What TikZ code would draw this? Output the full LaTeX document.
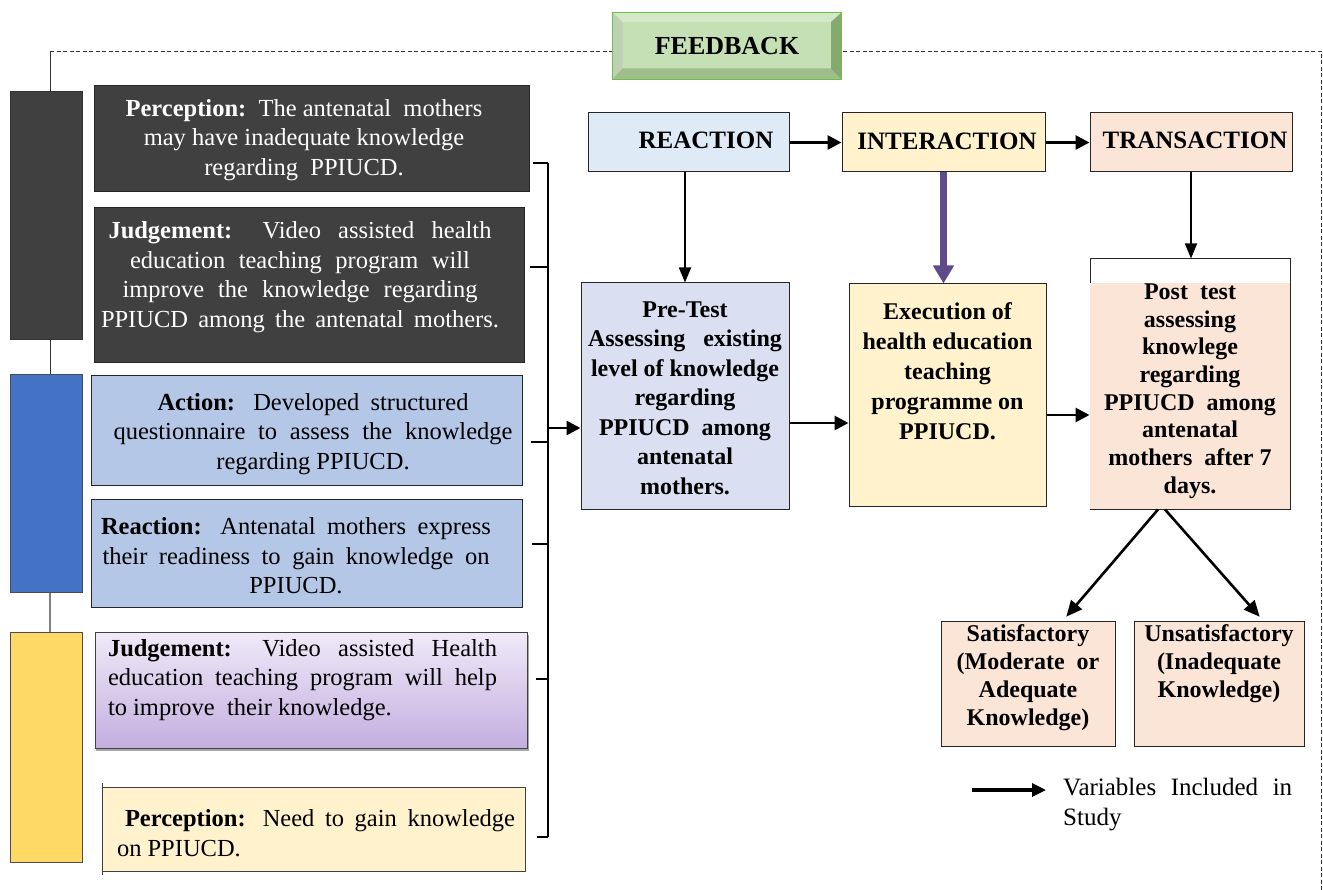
\documentclass[tikz,border=0pt]{standalone}
\usepackage{fontspec}
\setmainfont{Liberation Serif}
\usetikzlibrary{arrows.meta,calc}
\definecolor{cDark}{HTML}{404040}
\definecolor{cBlueBar}{HTML}{4472C4}
\definecolor{cYelBar}{HTML}{FFD966}
\definecolor{cLBlue}{HTML}{B4C7E7}
\definecolor{cReact}{HTML}{DEEBF7}
\definecolor{cYel}{HTML}{FFF2CC}
\definecolor{cPeach}{HTML}{FBE5D6}
\definecolor{cPre}{HTML}{DAE0F2}
\definecolor{cPurTop}{HTML}{EFEAF8}
\definecolor{cPurBot}{HTML}{C4AEE0}
\definecolor{cPurArr}{HTML}{5F4B8B}
\definecolor{cFbFace}{HTML}{C5E0B4}
\definecolor{cFbEdge}{HTML}{6CBF47}
\definecolor{cFbLight}{HTML}{D3E8C6}
\definecolor{cFbDark}{HTML}{9EBE8C}
\definecolor{cFbDarker}{HTML}{85AA70}
\newcommand{\myLfont}{\fontsize{24.5}{29.5}\selectfont}
\newcommand{\myRfont}{\fontsize{24}{29.5}\selectfont\bfseries}
\newcommand{\jline}[2]{\makebox[#1][s]{#2}}
\begin{document}
\begin{tikzpicture}[x=1pt,y=-1pt,
  box/.style={draw=black!85, line width=1pt, inner sep=0pt, rectangle},
  sz/.style 2 args={minimum width=#1pt, minimum height=#2pt},
  txt/.style={inner sep=0pt, align=center, font=\myLfont},
  rtxt/.style={inner sep=0pt, align=center, font=\myRfont},
  ttl/.style={inner sep=0pt, font=\fontsize{25}{29}\selectfont\bfseries},
  arr/.style={line width=2.8pt, -{Triangle[length=14pt,width=14pt]}},
  varr/.style={line width=1.8pt, -{Triangle[length=15pt,width=12pt]}},
  darr/.style={line width=2.6pt, -{Triangle[length=16pt,width=14pt]}, shorten >=5pt},
  purarr/.style={line width=7pt, cPurArr, -{Triangle[length=18pt,width=20pt]}},
  brk/.style={line width=2.5pt}
]
\useasboundingbox (0,0) rectangle (1323,890);

% feedback loop line
\coordinate (dl) at (50,51);
\coordinate (dr) at (1321,51);
\coordinate (de) at (1321,890);
\draw[dash pattern=on 4pt off 2.5pt, line width=0.9pt, black!80] (dl) -- (dr) -- (de);

% feedback box (bevel)
\node[box, sz={228}{66}, fill=cFbFace, draw=none] (fb) at (727,46) {};
\coordinate (iNW) at ($(fb.north west)+(10,10)$);
\coordinate (iNE) at ($(fb.north east)+(-11,10)$);
\coordinate (iSE) at ($(fb.south east)+(-11,-11)$);
\coordinate (iSW) at ($(fb.south west)+(10,-11)$);
\fill[cFbLight] (fb.north west) -- (fb.north east) -- (iNE) -- (iNW) -- cycle;
\fill[cFbLight!90!black] (fb.north west) -- (iNW) -- (iSW) -- (fb.south west) -- cycle;
\fill[cFbDark] (fb.south west) -- (fb.south east) -- (iSE) -- (iSW) -- cycle;
\fill[cFbDarker] (fb.north east) -- (fb.south east) -- (iSE) -- (iNE) -- cycle;
\fill[cFbFace] (iNW) rectangle (iSE);
\draw[cFbEdge, line width=1.5pt] (fb.north west) rectangle (fb.south east);
\node[ttl, font=\fontsize{26}{29}\selectfont\bfseries] (fbt) at (fb.center) {FEEDBACK};

% left bars
\node[box, sz={72}{248}, fill=cDark, draw=black!80] (bar1) at (46,216) {};
\node[box, sz={72}{217}, fill=cBlueBar, draw=black!70] (bar2) at (46,483.5) {};
\node[box, sz={72}{230}, fill=cYelBar, draw=black!70] (bar3) at (46,747) {};
\draw[line width=1pt, black!80] (dl) -- (dl|-bar1.north);
\draw[line width=1pt, black!80] (dl|-bar1.south) -- (dl|-bar2.north);
\draw[line width=1.3pt, gray] (dl|-bar2.south) -- (dl|-bar3.north);

% left boxes
\node[box, sz={434.5}{106}, fill=cDark] (b1) at (311.75,139) {};
\node[txt, text=white] (t1) at (304,140) {\textbf{Perception:}\ \ The antenatal\ \ mothers\\ may\ have\ inadequate\ knowledge\\ regarding\ \ PPIUCD.};

\node[box, sz={429.5}{155}, fill=cDark] (b2) at (309.25,285.5) {};
\node[txt, text=white] (t2) at (300,277) {\jline{383pt}{\textbf{Judgement:} Video assisted health}\\ \jline{340pt}{education teaching program will}\\ \jline{355pt}{improve the knowledge regarding}\\ \jline{398pt}{PPIUCD among the antenatal mothers.}};

\node[box, sz={431}{109}, fill=cLBlue] (b3) at (306.5,430.5) {};
\node[txt] (t3) at (313,434) {\jline{311pt}{\textbf{Action:} Developed structured}\\ \jline{399pt}{questionnaire to assess the knowledge}\\ regarding PPIUCD.};

\node[box, sz={431}{108}, fill=cLBlue] (b4) at (306.5,553) {};
\node[txt] (t4) at (296,556) {\jline{390pt}{\textbf{Reaction:} Antenatal mothers express}\\ \jline{387pt}{their readiness to gain knowledge on}\\ PPIUCD.};

\node[box, sz={432.7}{116}, fill=black!35, draw=none] (b5s) at (312.35,692.5) {};
\node[box, sz={432.7}{116}, top color=cPurTop, bottom color=cPurBot, draw=black!75] (b5) at (311.35,690) {};
\node[txt, align=left] (t5) at (302.5,680) {\jline{389pt}{\textbf{Judgement:} Video assisted Health}\\ \jline{389pt}{education teaching program will help}\\ to improve\ \ their knowledge.};

\node[box, sz={422.3}{84}, fill=cYel, draw=black!75] (b6) at (313.85,829) {};
\draw[line width=1pt, black!75] (b6.north west) ++(0,-4) -- ++(0,92);
\node[txt, align=left] (t6) at (316,833) {\hspace*{8pt}\jline{390pt}{\textbf{Perception:} Need to gain knowledge}\\ on PPIUCD.};

% bracket
\coordinate (k1) at (548,163);
\coordinate (k2) at (548,267);
\coordinate (k3) at (548,442);
\coordinate (k4) at (548,544);
\coordinate (k5) at (548,679);
\coordinate (k6) at (548,837);
\coordinate (km) at (548,428);
\draw[brk] (k1) -- (k6);
\draw[brk] (b1.east|-k1) ++(3,0) -- (k1);
\draw[brk] (b2.east|-k2) ++(5,0) -- (k2);
\draw[brk] (b3.east|-k3) ++(8,0) -- (k3);
\draw[brk] (b4.east|-k4) ++(9,0) -- (k4);
\draw[brk] (b5.east|-k5) ++(8,0) -- (k5);
\draw[brk] (b6.east|-k6) ++(11,0) -- (k6);

% right side
\node[box, sz={201}{59}, fill=cReact] (react) at (688.5,142.5) {};
\node[ttl] (reactt) at (706,140) {REACTION};
\node[box, sz={203}{59}, fill=cYel] (inter) at (943.5,142.5) {};
\node[ttl] (intert) at (947,141) {INTERACTION};
\node[box, sz={202}{59}, fill=cPeach] (trans) at (1191,142.5) {};
\node[ttl] (transt) at (1195,140) {TRANSACTION};

\node[box, sz={208}{226}, fill=cPre] (pre) at (685,396) {};
\node[rtxt] (pret) at (685,398) {Pre-Test\\ \jline{194pt}{Assessing existing}\\ level of knowledge\\ regarding\\ PPIUCD\ \ among\\ antenatal\\ mothers.};

\node[box, sz={197}{222}, fill=cYel] (exec) at (947.5,395) {};
\node[rtxt, font=\fontsize{24}{30}\selectfont\bfseries] (exect) at (947.5,371) {Execution of\\ health education\\ teaching\\ programme on\\ PPIUCD.};

\node[box, sz={200}{250}, fill=white] (post) at (1190,384) {};
\fill[cPeach] ($(post.north west)+(0.5,25)$) rectangle ($(post.south east)+(-0.5,-0.5)$);
\node[rtxt, font=\fontsize{24}{27.7}\selectfont\bfseries] (postt) at (1190,391) {Post\ \ test\\ assessing\\ knowlege\\ regarding\\ PPIUCD\ \ among\\ antenatal\\ mothers\ \ after 7\\ days.};

\node[box, sz={174}{125}, fill=cPeach] (sat) at (1028,683.5) {};
\node[rtxt, font=\fontsize{24}{28}\selectfont\bfseries] (satt) at (1028,678) {Satisfactory\\ (Moderate\ \ or\\ Adequate\\ Knowledge)};
\node[box, sz={170}{125}, fill=cPeach] (unsat) at (1219,683.5) {};
\node[rtxt, font=\fontsize{24}{28}\selectfont\bfseries] (unsatt) at (1219,664) {Unsatisfactory\\ (Inadequate\\ Knowledge)};

% arrows
\draw[arr] (km) -- (km-|pre.west);
\draw[arr] (react.east) -- (inter.west);
\draw[arr] (inter.east) -- (trans.west);
\draw[varr] (pre.north|-react.south) -- (pre.north);
\draw[purarr] (inter.south) -- (inter.south|-exec.north);
\draw[varr] (trans.south) -- (trans.south|-post.north);
\coordinate (pe) at ([yshift=-27pt]pre.east);
\draw[arr] (pe) -- (pe-|exec.west);
\coordinate (ep) at ([yshift=-20pt]exec.east);
\draw[arr] (ep) -- (ep-|post.west);
\draw[darr] ([xshift=-32pt]post.south) -- ([xshift=35pt]sat.north);
\draw[darr] ([xshift=-25pt]post.south) -- ([xshift=44pt]unsat.north);

% legend
\node[anchor=north west, inner sep=0pt, align=left, font=\fontsize{25}{30}\selectfont] (leg) at (1063,778) {\jline{229pt}{Variables Included in}\\ Study};
\coordinate (lg1) at (972,790);
\coordinate (lg2) at (1046,790);
\draw[line width=3.2pt, -{Triangle[length=14pt,width=13pt]}] (lg1) -- (lg2);
\end{tikzpicture}
\end{document}
